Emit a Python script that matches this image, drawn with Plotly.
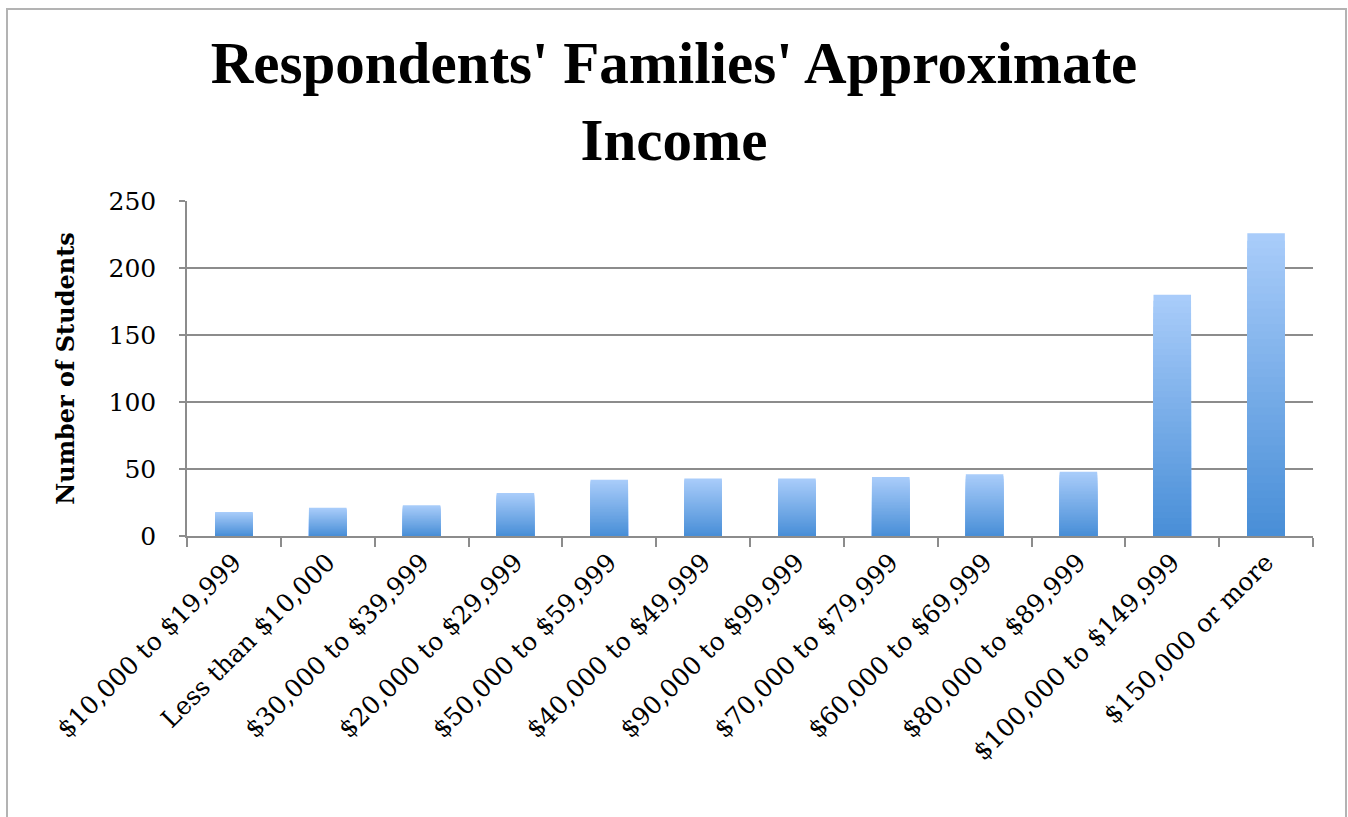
import plotly.graph_objects as go

# Income brackets (in the order they appear) and number of students in each
categories = [
    "$10,000 to $19,999",
    "Less than $10,000",
    "$30,000 to $39,999",
    "$20,000 to $29,999",
    "$50,000 to $59,999",
    "$40,000 to $49,999",
    "$90,000 to $99,999",
    "$70,000 to $79,999",
    "$60,000 to $69,999",
    "$80,000 to $89,999",
    "$100,000 to $149,999",
    "$150,000 or more",
]
students = [18, 21, 23, 32, 42, 43, 43, 44, 46, 48, 180, 226]
y_ticks = [0, 50, 100, 150, 200, 250]

W, H = 1348, 817
MARGIN = dict(l=187, r=35, t=201, b=281)
plot_w = W - MARGIN["l"] - MARGIN["r"]
plot_h = H - MARGIN["t"] - MARGIN["b"]

TITLE_FONT = "Liberation Serif"
AXIS_FONT = "DejaVu Serif"
TOP_RGB = (170, 205, 250)
BOTTOM_RGB = (72, 142, 215)
GRID = "#8c8c8c"


def mix(t):
    """Colour at relative height t (0 = bar base, 1 = bar top)."""
    r, g, b = (round(lo + (hi - lo) * t) for lo, hi in zip(BOTTOM_RGB, TOP_RGB))
    return f"rgb({r},{g},{b})"


fig = go.Figure()

# Vertical gradient: each bar is layered from full height down, lighter at the top
steps = 40
for k in range(steps):
    frac = 1 - k / steps
    fig.add_trace(
        go.Bar(
            x=categories,
            y=[v * frac for v in students],
            marker=dict(color=mix(frac - 0.5 / steps), line=dict(width=0)),
            showlegend=False,
            hoverinfo="x+y" if k == 0 else "skip",
        )
    )

# Light frame around the whole chart
fig.add_shape(
    type="rect",
    xref="paper",
    yref="paper",
    x0=-(MARGIN["l"] - 7) / plot_w,
    x1=1 + (MARGIN["r"] - 2) / plot_w,
    y0=-(MARGIN["b"] + 20) / plot_h,
    y1=1 + (MARGIN["t"] - 9) / plot_h,
    line=dict(color="#b3b3b3", width=2),
    layer="below",
)

fig.update_layout(
    width=W,
    height=H,
    margin=MARGIN,
    paper_bgcolor="white",
    plot_bgcolor="white",
    barmode="overlay",
    bargap=0.6,
    title=dict(
        text="Respondents' Families' Approximate<br>Income",
        x=0.5,
        xanchor="center",
        xref="container",
        y=1 - 83 / H,
        yanchor="top",
        yref="container",
        font=dict(family=TITLE_FONT, size=59, color="black", weight="bold"),
    ),
    font=dict(family=AXIS_FONT, color="black"),
)

fig.update_xaxes(
    type="category",
    tickson="boundaries",
    ticks="outside",
    ticklen=9,
    tickwidth=1.5,
    tickcolor=GRID,
    showline=True,
    linecolor=GRID,
    linewidth=1.5,
    showgrid=False,
    tickangle=-45,
    tickfont=dict(family=AXIS_FONT, size=25, color="black"),
)

fig.update_yaxes(
    range=[0, 250],
    tickvals=y_ticks,
    ticks="outside",
    ticklen=6,
    tickwidth=1.5,
    tickcolor=GRID,
    showline=True,
    linecolor=GRID,
    linewidth=1.5,
    showgrid=True,
    gridcolor=GRID,
    gridwidth=1.5,
    zeroline=False,
    ticklabelstandoff=18,
    tickfont=dict(family=AXIS_FONT, size=25, color="black"),
    title=dict(
        text="Number of Students",
        standoff=27,
        font=dict(family=AXIS_FONT, size=24, color="black", weight="bold"),
    ),
)

fig.write_html("out.html")
